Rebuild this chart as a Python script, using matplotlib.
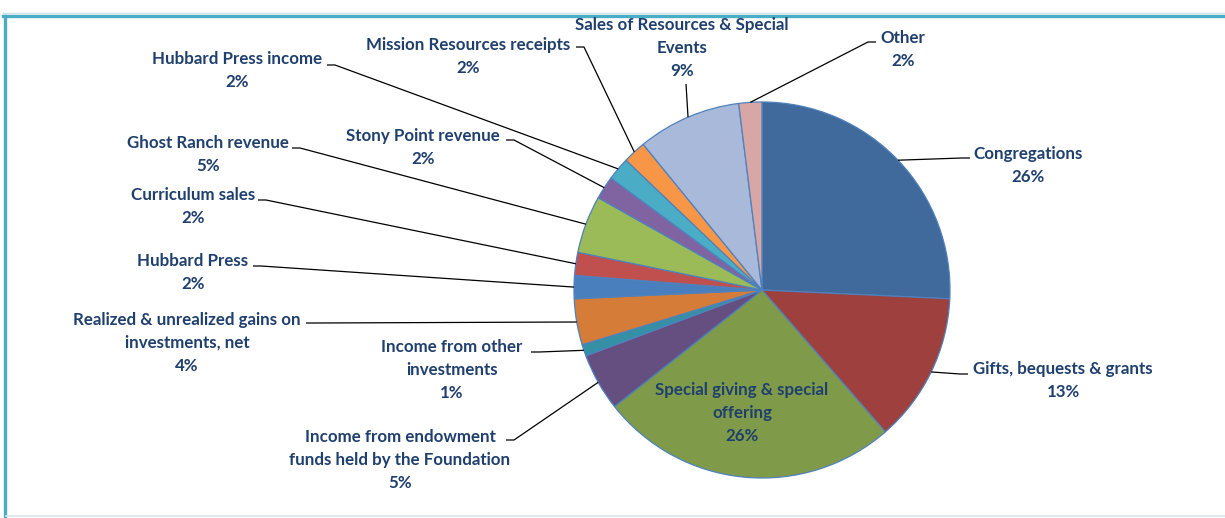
import numpy as np
import matplotlib.pyplot as plt

# Sources of funds, share of total (%)
categories = [
    'Congregations',
    'Gifts, bequests & grants',
    'Special giving & special\noffering',
    'Income from endowment\nfunds held by the Foundation',
    'Income from other\ninvestments',
    'Realized & unrealized gains on\ninvestments, net',
    'Hubbard Press',
    'Curriculum sales',
    'Ghost Ranch revenue',
    'Stony Point revenue',
    'Hubbard Press income',
    'Mission Resources receipts',
    'Sales of Resources & Special\nEvents',
    'Other',
]
shares = [26, 13, 26, 5, 1, 4, 2, 2, 5, 2, 2, 2, 9, 2]
colors = ['#3F6A9B', '#9D403E', '#7F9B4A', '#654F80', '#3590A6', '#D47C38',
          '#4A7FBD', '#C0504D', '#9BBB59', '#8064A2', '#4BACC6', '#F79646',
          '#A9B9D9', '#D8A6A5']

W, H = 1225, 518
fig = plt.figure(figsize=(W / 100, H / 100), dpi=100)
ax = fig.add_axes([0, 0, 1, 1])

cx, cy, r = 762, H - 290, 188
wedges, _ = ax.pie(shares, colors=colors, startangle=90, counterclock=False,
                   center=(cx, cy), radius=r, frame=True,
                   wedgeprops=dict(edgecolor='#4F81BD', linewidth=0.9))
ax.set_xlim(0, W)
ax.set_ylim(0, H)
ax.set_aspect('equal')
ax.axis('off')

navy = '#1F3F6E'
font = dict(family='Lato', fontweight='bold', fontsize=12.2, color=navy)

# label centre x / top y (px from top) and leader start point
label_pos = [
    (1028, 146), (1063, 361), (742, 382), (400, 429), (452, 339), (187, 312),
    (193, 253), (193, 187), (208, 135), (423, 128), (237, 51), (468, 37),
    (682, 17), (903, 30),
]
leader_start = [
    (970, 158), (968, 374), None, (506, 440), (531, 352), (306, 323),
    (253, 266), (258, 200), (292, 148), (506, 140), (327, 65), (576, 47),
    (686, 84), (876, 42),
]

for i, (lab, val) in enumerate(zip(categories, shares)):
    x, y = label_pos[i]
    ax.text(x, H - y, f'{lab}\n{val}%', ha='center', va='top',
            linespacing=1.52, **font)
    if leader_start[i] is None:
        continue
    w = wedges[i]
    mid = np.deg2rad((w.theta1 + w.theta2) / 2)
    px, py = cx + r * np.cos(mid), cy + r * np.sin(mid)
    sx, sy = leader_start[i][0], H - leader_start[i][1]
    if abs(sx - px) < 5:
        xs, ys = [sx, px], [sy, py]
    else:
        step = 8 if px > sx else -8
        xs, ys = [sx, sx + step, px], [sy, sy, py]
    ax.plot(xs, ys, color='black', lw=0.9, solid_capstyle='butt')

# frame of the chart area
ax.plot([3, W], [H - 15.5, H - 15.5], color='#4BACC6', lw=2.4)
ax.plot([3, W], [H - 13, H - 13], color='#C9E3EC', lw=1)
ax.plot([4.5, 4.5], [0, H - 15.5], color='#4BACC6', lw=2.4)
ax.plot([6, W], [2.5, 2.5], color='#DCE8EE', lw=1.2)
ax.text(614, H - 0.5, 'Sources of Funds', ha='center', va='baseline',
        family='Lato', fontweight='bold', fontsize=13, color='#B9CDE5')

fig.savefig('out.png', dpi=100)
